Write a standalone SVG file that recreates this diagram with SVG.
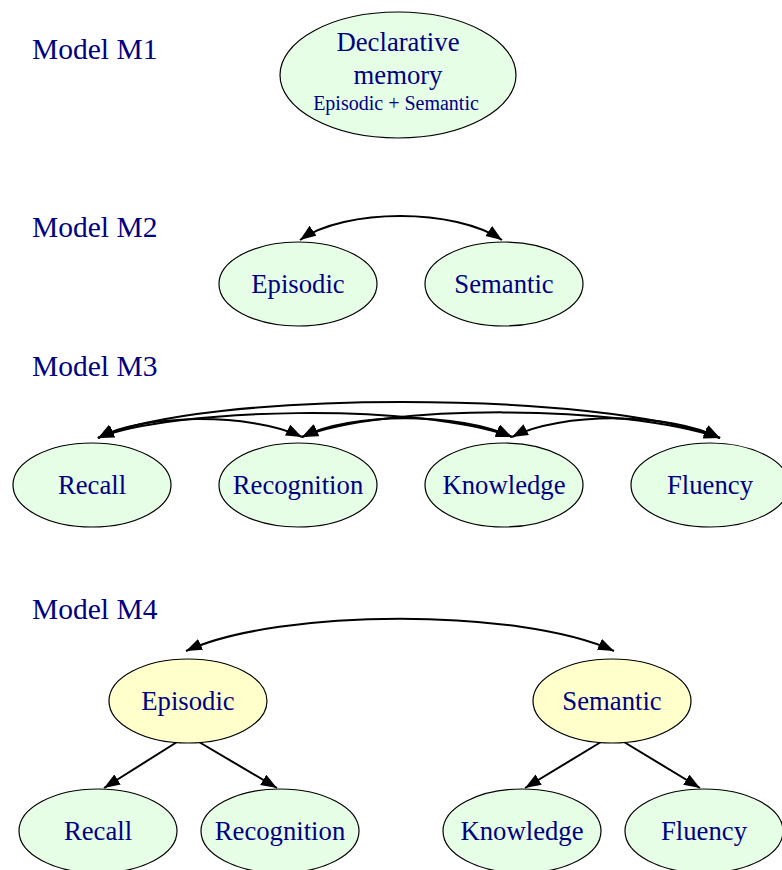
<svg xmlns="http://www.w3.org/2000/svg" width="782" height="870" viewBox="0 0 782 870">
<style>
  .lbl { font-family: "Liberation Serif", "Times New Roman", serif; font-size: 29.5px; fill: #000080; }
  .t { font-family: "Liberation Serif", "Times New Roman", serif; font-size: 26.7px; fill: #000080; text-anchor: middle; }
  .ts { font-family: "Liberation Serif", "Times New Roman", serif; font-size: 20px; fill: #000080; text-anchor: middle; }
  .g { fill: #e6fde6; stroke: #000; stroke-width: 1.2; }
  .y { fill: #ffffcc; stroke: #000; stroke-width: 1.2; }
  .e { fill: none; stroke: #000; stroke-width: 2; }
  .bi { marker-start: url(#ah); marker-end: url(#ah); }
  .uni { marker-end: url(#ah); }
</style>
<defs>
  <marker id="ah" markerUnits="userSpaceOnUse" markerWidth="17" markerHeight="13" refX="16" refY="6" orient="auto-start-reverse">
    <path d="M0,0 L16,6 L0,12 z" fill="#000"/>
  </marker>
</defs>
<rect width="782" height="870" fill="#fff"/>

<g id="labels">
  <text class="lbl" x="32" y="59">Model M1</text>
  <text class="lbl" x="32" y="237">Model M2</text>
  <text class="lbl" x="32" y="376">Model M3</text>
  <text class="lbl" x="32" y="619">Model M4</text>
</g>

<g id="connectors">
  <!-- M2 -->
  <path class="e bi" d="M300,240 C345,208 455,208 502,240"/>
  <!-- M3 -->
  <path class="e bi" d="M98,438 C140,414 250,412 302,437"/>
  <path class="e bi" d="M98,438 C170,408 420,402 512,437"/>
  <path class="e bi" d="M98,438 C200,390 600,390 720,438"/>
  <path class="e bi" d="M302,437 C350,412 460,412 512,437"/>
  <path class="e bi" d="M302,437 C380,404 620,404 720,438"/>
  <path class="e bi" d="M512,437 C560,412 670,412 720,438"/>
  <!-- M4 -->
  <path class="e bi" d="M186,651 C280,608 520,608 614,651"/>
  <path class="e uni" d="M177,742 L104,788"/>
  <path class="e uni" d="M199,742 L277,788"/>
  <path class="e uni" d="M601,742 L525,788"/>
  <path class="e uni" d="M624,742 L700,788"/>
</g>

<g id="m1_declarative">
  <ellipse class="g" cx="398" cy="75" rx="118" ry="63"/>
  <text class="t" x="398" y="51">Declarative</text>
  <text class="t" x="398" y="84">memory</text>
  <text class="ts" x="396" y="110">Episodic + Semantic</text>
</g>

<g id="m2_episodic">
  <ellipse class="g" cx="298" cy="284" rx="79" ry="42"/>
  <text class="t" x="298" y="293">Episodic</text>
</g>
<g id="m2_semantic">
  <ellipse class="g" cx="504" cy="284" rx="79" ry="42"/>
  <text class="t" x="504" y="293">Semantic</text>
</g>

<g id="m3_recall">
  <ellipse class="g" cx="92" cy="485" rx="79" ry="42"/>
  <text class="t" x="92" y="494">Recall</text>
</g>
<g id="m3_recognition">
  <ellipse class="g" cx="298" cy="485" rx="79" ry="42"/>
  <text class="t" x="298" y="494">Recognition</text>
</g>
<g id="m3_knowledge">
  <ellipse class="g" cx="504" cy="485" rx="79" ry="42"/>
  <text class="t" x="504" y="494">Knowledge</text>
</g>
<g id="m3_fluency">
  <ellipse class="g" cx="710" cy="485" rx="79" ry="42"/>
  <text class="t" x="710" y="494">Fluency</text>
</g>

<g id="m4_episodic">
  <ellipse class="y" cx="188" cy="701" rx="79" ry="42"/>
  <text class="t" x="188" y="710">Episodic</text>
</g>
<g id="m4_semantic">
  <ellipse class="y" cx="612" cy="701" rx="79" ry="42"/>
  <text class="t" x="612" y="710">Semantic</text>
</g>
<g id="m4_recall">
  <ellipse class="g" cx="98" cy="831" rx="79" ry="42"/>
  <text class="t" x="98" y="840">Recall</text>
</g>
<g id="m4_recognition">
  <ellipse class="g" cx="280" cy="831" rx="79" ry="42"/>
  <text class="t" x="280" y="840">Recognition</text>
</g>
<g id="m4_knowledge">
  <ellipse class="g" cx="522" cy="831" rx="79" ry="42"/>
  <text class="t" x="522" y="840">Knowledge</text>
</g>
<g id="m4_fluency">
  <ellipse class="g" cx="704" cy="831" rx="79" ry="42"/>
  <text class="t" x="704" y="840">Fluency</text>
</g>
</svg>
